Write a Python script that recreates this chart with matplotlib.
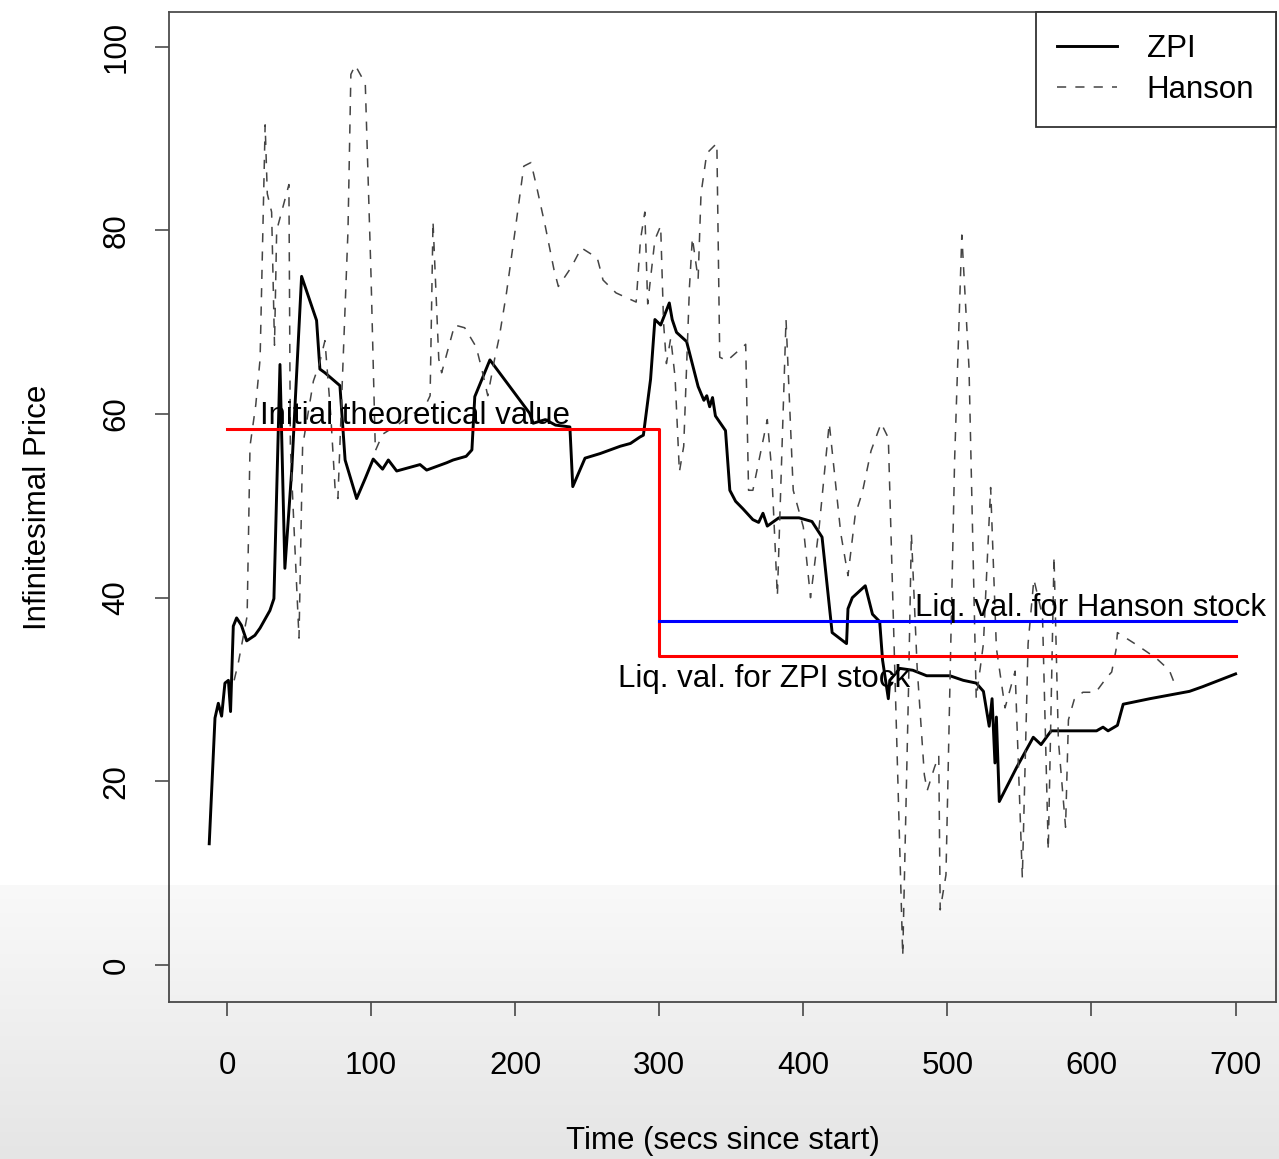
import numpy as np
import matplotlib.pyplot as plt

# ZPI price path (secs since start, price)
zpi_t = [-12.3, -8.3, -6, -3.7, -1.4, 1, 2.5, 4.4, 6.7, 10, 13.7, 19.4, 23, 29.8, 32.6,
         36.8, 40.2, 45, 51.8, 62.2, 64.5, 68, 78.4, 82, 90, 96, 101.5, 108, 112, 117.8,
         134, 138.6, 152.5, 157, 166, 170, 172, 182.5, 210, 212.5, 221, 228, 238, 240,
         248.5, 259, 273, 280, 286.6, 289, 294, 297, 301, 307, 309, 312, 319, 327, 331,
         333, 335, 337, 339, 346, 349, 353, 358, 365, 369, 372, 375, 383, 397, 406, 413,
         420, 430, 431, 434, 443, 448, 453, 455, 459, 460, 467, 476, 485.6, 501.7, 511,
         520, 525, 529, 531, 533, 534, 536, 548, 559.6, 565, 572, 603.5, 608, 611.5, 618,
         622, 640.5, 668, 677, 700]
zpi_v = [13.2, 26.9, 28.5, 27.1, 30.7, 31, 27.6, 36.9, 37.8, 37, 35.3, 35.9, 36.7, 38.6, 39.9,
         65.4, 43.2, 54, 75, 70.2, 64.9, 64.5, 63.1, 55, 50.8, 53, 55.1, 54, 55, 53.8,
         54.5, 53.9, 54.7, 55, 55.4, 56.1, 61.9, 65.9, 60.1, 59, 59.4, 58.8, 58.6, 52.1,
         55.2, 55.7, 56.5, 56.8, 57.5, 57.7, 63.8, 70.3, 69.7, 72.1, 70.3, 68.9, 67.9, 63, 61.5,
         62, 60.8, 61.8, 59.8, 58.2, 51.7, 50.5, 49.7, 48.5, 48.2, 49.2, 47.8, 48.7, 48.7, 48.3, 46.6,
         36.2, 35, 38.8, 40, 41.3, 38.2, 37.4, 33.2, 29, 31, 32.3, 32.1, 31.5, 31.5, 31,
         30.7, 29.8, 26, 29, 22, 27, 17.8, 21.5, 24.8, 24, 25.5, 25.5, 25.9, 25.5, 26.1,
         28.4, 29, 29.8, 30.3, 31.7]

# Hanson price path
hanson_t = [5, 8, 14, 16, 20, 23, 26.5, 28, 31, 33, 34.5, 43, 44, 50, 52.5, 60, 64, 68, 72, 75,
            77, 84, 86, 89, 96, 100, 103, 108, 120, 138, 141, 143, 147, 149, 158, 165, 173,
            177, 181, 186, 189, 194, 200, 206, 211, 215, 221, 227, 230, 239, 246, 257, 261,
            270, 284, 287, 290, 292, 297, 301, 303, 305, 308, 311, 314, 317, 321, 323, 327,
            329, 333, 340, 342, 347, 360, 362, 365, 375, 378, 382, 388, 393, 400, 405, 411,
            418, 422, 426, 431, 436, 441, 447, 454, 459, 469, 473, 475, 479, 484, 486, 491,
            494, 495, 499, 505, 510, 515, 520, 525, 530, 534, 540, 547, 552, 556, 560, 566,
            570, 574, 577, 582, 584, 588, 594, 603, 611, 614, 617, 618, 631, 645, 654, 658]
hanson_v = [31, 33, 38, 56.5, 61, 66, 91.5, 84, 82, 67.5, 80, 85, 56.5, 35.6, 56.5, 63.6, 65.4, 68, 60, 52,
            50.8, 80, 97, 98, 96, 75, 56, 57.8, 59, 61, 62, 81, 66, 64.5, 69.7, 69.4, 67.3,
            64.8, 62, 66.2, 68.4, 73.2, 80, 87, 87.4, 84.7, 80.4, 75.7, 73.9, 76, 78.1, 77, 74.6,
            73.2, 72.2, 79, 82, 72, 79, 80.5, 70, 65.5, 68.3, 64, 53.7, 56.5, 73.9, 79.2, 74.7,
            84, 88.4, 89.5, 66.2, 65.8, 67.6, 51.7, 51.7, 59.4, 54, 40.2, 70.3, 51.7, 47.7, 40, 47.7,
            59, 53, 47, 42.4, 49, 51.5, 56, 59, 57.4, 1, 30, 47, 32.4, 20.7, 19, 21.5,
            22.8, 6, 9.8, 55, 79.5, 65, 29, 35, 52, 34.5, 28, 32, 9.5, 35, 42, 38,
            12.5, 44.5, 24.5, 15, 26.7, 28.9, 29.7, 29.7, 31.4, 31.9, 34.3, 36.2, 34.9, 33.4, 32.1, 30.5]

init_value = 58.4
zpi_liq = 33.7
hanson_liq = 37.5
switch_t = 300
end_t = 700

plt.rcParams['font.family'] = ['Liberation Sans', 'DejaVu Sans']
fs = 22.5

fig = plt.figure(figsize=(12.79, 11.59), dpi=100)
ax = fig.add_axes([0.1321, 0.1355, 0.8655, 0.8542])

l1, = ax.plot(zpi_t, zpi_v, color='black', lw=2.1, label='ZPI')
l2, = ax.plot(hanson_t, hanson_v, color='#444444', lw=1.1, dashes=(6, 6), label='Hanson')

ax.plot([0, switch_t, switch_t, end_t], [init_value, init_value, zpi_liq, zpi_liq],
        color='red', lw=2.2)
ax.plot([switch_t, end_t], [hanson_liq, hanson_liq], color='blue', lw=2.2)

ax.text(130.5, 58.9, 'Initial theoretical value', ha='center', va='baseline', fontsize=fs)
ax.text(599, 38.0, 'Liq. val. for Hanson stock', ha='center', va='baseline', fontsize=fs)
ax.text(372.7, 30.3, 'Liq. val. for ZPI stock', ha='center', va='baseline', fontsize=fs)

ax.set_xlim(-40.25, 728)
ax.set_ylim(-4.03, 103.8)
ax.set_xticks(range(0, 701, 100))
ax.set_yticks(range(0, 101, 20))
ax.tick_params(axis='both', length=10, width=1.2, color='#4d4d4d', labelsize=fs)
ax.tick_params(axis='x', pad=25)
ax.tick_params(axis='y', pad=17)
for lab in ax.get_yticklabels():
    lab.set_rotation(90)
    lab.set_va('center')
for s in ax.spines.values():
    s.set_color('#4d4d4d')
    s.set_linewidth(1.3)

ax.set_xlabel('Time (secs since start)', fontsize=fs, labelpad=33)
ax.set_ylabel('Infinitesimal Price', fontsize=fs, labelpad=35)

leg = ax.legend(handles=[l1, l2], loc='upper right', borderaxespad=0, fontsize=fs,
                fancybox=False, framealpha=1, edgecolor='#333333',
                handlelength=1.9, handletextpad=0.95, borderpad=0.7, labelspacing=0.35)
leg.get_frame().set_linewidth(1.3)

# light grey fade at the bottom of the screenshot
H = 1159
rows = np.arange(H)
gray = np.where(rows < 885, 255, 248 - 20 * (rows - 885) / (H - 885))
alpha = (255 - gray) / 255
img = np.zeros((H, 1, 4))
img[:, 0, 3] = alpha
ov = fig.add_axes([0, 0, 1, 1], zorder=10)
ov.imshow(img, aspect='auto', extent=[0, 1, 0, 1])
ov.axis('off')

fig.savefig('out.png', dpi=100)
